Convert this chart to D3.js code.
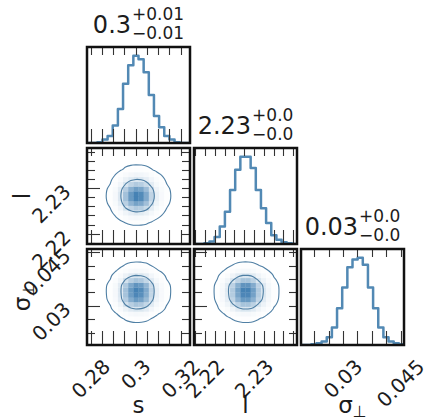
<!DOCTYPE html>
<html><head><meta charset="utf-8">
<script src="https://cdn.jsdelivr.net/npm/d3@7"></script>
<style>body{margin:0;background:#fff;} svg{display:block;font-family:"DejaVu Sans",sans-serif;}</style>
</head><body><svg id="c" width="428" height="420"></svg>
<script>
// ---- data ----
const paramNames = ["s", "l", "σ"];
const paramSubs = ["", "", "⊥"];
const sRange = [0.27836, 0.32413];
const lRange = [2.21776, 2.23877];
const sigRange = [0.01906, 0.04589];
const sHist = [0,0,1,4,8,20,39,68,89,100,96,81,55,31,18,8,4,1,0,0];
const lHist = [0,0,1,3,8,20,37,62,85,100,100,87,62,41,24,10,5,2,1,0];
const sigHist = [0,0,1,2,4,9,20,42,66,89,98,100,92,66,42,20,9,4,2,1];
const sTicks = [0.28, 0.30, 0.32];
const sTickLabels = ["0.28", "0.3", "0.32"];
const lTicks = [2.22, 2.23];
const lTickLabels = ["2.22", "2.23"];
const sigTicks = [0.03, 0.045];
const sigTickLabels = ["0.03", "0.045"];
const minorSteps = [0.005, 0.002, 0.00375];
const titleMedian = ["0.3", "2.23", "0.03"];
const titlePlus = ["+0.01", "+0.0", "+0.0"];
const titleMinus = ["\u22120.01", "\u22120.0", "\u22120.0"];
const contourLevels = [5, 42];

// ---- layout ----
const W = 103, H = 96;
const colX = [87, 194, 301], rowY = [47, 148, 249];
const color = "#4682b4";
const lineColor = "#5289b4";
const textColor = "#1c1c1c";
const P = [
  {range: sRange, hist: sHist, ticks: sTicks, labels: sTickLabels, minor: minorSteps[0]},
  {range: lRange, hist: lHist, ticks: lTicks, labels: lTickLabels, minor: minorSteps[1]},
  {range: sigRange, hist: sigHist, ticks: sigTicks, labels: sigTickLabels, minor: minorSteps[2]}
];
const svg = d3.select("#c");
const defs = svg.append("defs");
const xScale = c => d3.scaleLinear().domain(P[c].range).range([colX[c], colX[c] + W]);
const yScale = (r, p) => d3.scaleLinear().domain(P[p].range).range([rowY[r] + H, rowY[r]]);

function minorTicks(p) {
  const [a, b] = P[p].range, st = P[p].minor, base = P[p].ticks[0];
  const out = [];
  for (let k = -20; k <= 20; k++) { const v = base + k * st; if (v > a && v < b) out.push(v); }
  return out;
}
function isMajor(p, v) { return P[p].ticks.some(t => Math.abs(t - v) < 1e-9); }

for (let r = 0; r < 3; r++) {
  for (let c = 0; c <= r; c++) {
    const x0 = colX[c], y0 = rowY[r];
    const id = "clip" + r + c;
    defs.append("clipPath").attr("id", id).append("rect").attr("x", x0).attr("y", y0).attr("width", W).attr("height", H);
    const g = svg.append("g");
    const inner = g.append("g").attr("clip-path", `url(#${id})`);
    const xs = xScale(c);
    const px = P[c];
    const nb = px.hist.length;
    const bwx = (px.range[1] - px.range[0]) / nb;
    if (r === c) {
      const ys = d3.scaleLinear().domain([0, 1.1 * d3.max(px.hist)]).range([y0 + H, y0]);
      const pts = [[px.range[0], 0]];
      px.hist.forEach((h, i) => { pts.push([px.range[0] + i * bwx, h]); pts.push([px.range[0] + (i + 1) * bwx, h]); });
      pts.push([px.range[1], 0]);
      inner.append("path").attr("d", d3.line().x(d => xs(d[0])).y(d => ys(d[1]))(pts))
        .attr("fill", "none").attr("stroke", lineColor).attr("stroke-width", 2.5).attr("stroke-linejoin", "round");
    } else {
      const py = P[r];
      const ys = yScale(r, r);
      const bwy = (py.range[1] - py.range[0]) / py.hist.length;
      const vals = [];
      py.hist.forEach((hy, yi) => px.hist.forEach((hx, xi) => vals.push(hy * hx / 100)));
      const vmax = d3.max(vals);
      const cells = [];
      vals.forEach((v, k) => { const xi = k % nb, yi = Math.floor(k / nb); if (v > 0.3) cells.push({xi, yi, v}); });
      const interp = d3.interpolateRgb("#ffffff", color);
      inner.selectAll("rect.cell").data(cells).join("rect")
        .attr("x", d => xs(px.range[0] + d.xi * bwx))
        .attr("y", d => ys(py.range[0] + (d.yi + 1) * bwy))
        .attr("width", d => xs(px.range[0] + (d.xi + 1) * bwx) - xs(px.range[0] + d.xi * bwx) + 0.3)
        .attr("height", d => ys(py.range[0] + d.yi * bwy) - ys(py.range[0] + (d.yi + 1) * bwy) + 0.3)
        .attr("fill", d => interp(Math.pow(d.v / vmax, 1.8)));
      const cont = d3.contours().size([nb, py.hist.length]).thresholds(contourLevels)(vals);
      const line = d3.line().curve(d3.curveCatmullRomClosed)
        .x(p => xs(px.range[0] + p[0] * bwx)).y(p => ys(py.range[0] + p[1] * bwy));
      cont.forEach(cg => cg.coordinates.forEach(poly => poly.forEach(ring => {
        inner.append("path").attr("d", line(ring.slice(0, -1)))
          .attr("fill", "none").attr("stroke", "#4f7fa4").attr("stroke-width", 1.1);
      })));
    }
    // ticks
    const tk = g.append("g").attr("stroke", "#333").attr("stroke-width", 1.1);
    minorTicks(c).forEach(v => {
      const X = Math.round(xs(v)) + 0.5;
      tk.append("line").attr("x1", X).attr("x2", X).attr("y1", y0 + H).attr("y2", y0 + H - 14);
      tk.append("line").attr("x1", X).attr("x2", X).attr("y1", y0).attr("y2", y0 + 8);
    });
    if (r !== c) {
      const ys = yScale(r, r);
      minorTicks(r).forEach(v => {
        const Y = Math.round(ys(v)) + 0.5;
        const L = isMajor(r, v) ? 13 : 8;
        tk.append("line").attr("x1", x0).attr("x2", x0 + L).attr("y1", Y).attr("y2", Y);
        tk.append("line").attr("x1", x0 + W).attr("x2", x0 + W - 8).attr("y1", Y).attr("y2", Y);
      });
    }
    g.append("rect").attr("x", x0).attr("y", y0).attr("width", W).attr("height", H)
      .attr("fill", "none").attr("stroke", "#111").attr("stroke-width", 2.5);
  }
}

// tick labels
const tl = svg.append("g").attr("font-size", 20).attr("fill", textColor);
function rotLabel(txt, fn) {
  const t = tl.append("text").text(txt).attr("text-anchor", "end").attr("dy", "0.35em");
  const L = t.node().getComputedTextLength();
  const [px, py] = fn(L);
  t.attr("transform", `translate(${px},${py}) rotate(-45)`);
}
for (let c = 0; c < 3; c++) {
  const xs = xScale(c);
  P[c].ticks.forEach((v, i) => rotLabel(P[c].labels[i], L => [xs(v) + 0.354 * L, rowY[2] + H + 18]));
}
for (let r = 1; r < 3; r++) {
  const ys = yScale(r, r);
  P[r].ticks.forEach((v, i) => rotLabel(P[r].labels[i], L => [colX[0] - 20, ys(v)]));
}

// axis labels
const al = svg.append("g").attr("font-size", 23).attr("fill", textColor);
for (let c = 0; c < 3; c++) {
  const t = al.append("text").attr("x", colX[c] + W / 2).attr("y", 413).attr("text-anchor", "middle").text(paramNames[c]);
  if (paramSubs[c]) t.append("tspan").attr("font-size", 16).attr("dy", "0.25em").text(paramSubs[c]);
}
for (let r = 1; r < 3; r++) {
  const t = al.append("text").attr("text-anchor", "middle")
    .attr("transform", `translate(30,${rowY[r] + H / 2}) rotate(-90)`).text(paramNames[r]);
  if (paramSubs[r]) t.append("tspan").attr("font-size", 16).attr("dy", "0.25em").text(paramSubs[r]);
}

// titles
const tt = svg.append("g").attr("fill", textColor);
for (let i = 0; i < 3; i++) {
  const base = rowY[i] - 14;
  const m = tt.append("text").attr("font-size", 24).attr("y", base).text(titleMedian[i]);
  const sp = tt.append("text").attr("font-size", 17).attr("y", base - 13).text(titlePlus[i]);
  const sb = tt.append("text").attr("font-size", 17).attr("y", base + 6).text(titleMinus[i]);
  const mw = m.node().getComputedTextLength();
  const sw = Math.max(sp.node().getComputedTextLength(), sb.node().getComputedTextLength());
  const x = colX[i] + W / 2 - (mw + sw + 1) / 2;
  m.attr("x", x); sp.attr("x", x + mw + 1); sb.attr("x", x + mw + 1);
}
</script></body></html>
